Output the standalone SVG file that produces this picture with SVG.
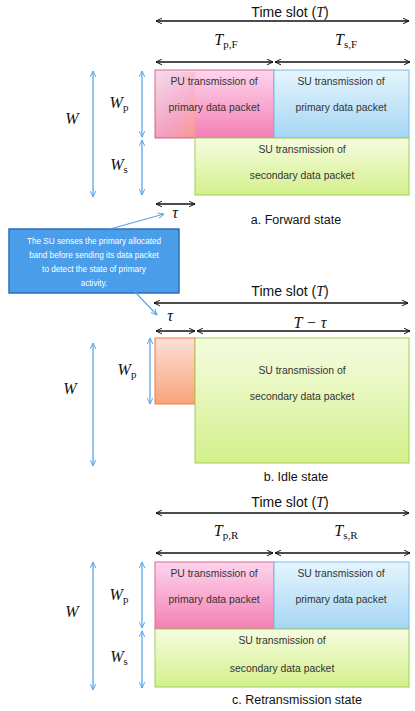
<svg xmlns="http://www.w3.org/2000/svg" width="415" height="711" viewBox="0 0 415 711">
<defs>
<marker id="ah" viewBox="0 0 10 10" refX="9.5" refY="5" markerWidth="7" markerHeight="7" orient="auto-start-reverse" markerUnits="userSpaceOnUse"><path d="M1,1 L9.5,5 L1,9" fill="none" stroke="#111" stroke-width="1.4"/></marker>
<marker id="ahb" viewBox="0 0 10 10" refX="9.5" refY="5" markerWidth="7" markerHeight="7" orient="auto-start-reverse" markerUnits="userSpaceOnUse"><path d="M1,1 L9.5,5 L1,9" fill="none" stroke="#5aa5e6" stroke-width="1.4"/></marker>
<linearGradient id="gPink" x1="0" y1="0" x2="0" y2="1"><stop offset="0" stop-color="#fdd6ee"/><stop offset="1" stop-color="#f47fb2"/></linearGradient>
<linearGradient id="gBlue" x1="0" y1="0" x2="0" y2="1"><stop offset="0" stop-color="#e6f5fd"/><stop offset="1" stop-color="#a5d6f4"/></linearGradient>
<linearGradient id="gGreen" x1="0" y1="0" x2="0" y2="1"><stop offset="0" stop-color="#f6fce0"/><stop offset="1" stop-color="#d3f08c"/></linearGradient>
<linearGradient id="gOrange" x1="0" y1="0" x2="0" y2="1"><stop offset="0" stop-color="#fde0d8"/><stop offset="1" stop-color="#f9a378"/></linearGradient>
<linearGradient id="gOver" x1="0" y1="0" x2="1" y2="1"><stop offset="0" stop-color="#ece0e6"/><stop offset="0.6" stop-color="#f4b0c8"/><stop offset="1" stop-color="#f8a878"/></linearGradient>
</defs>
<style>
.ar{stroke:#111;stroke-width:1.3;fill:none;marker-start:url(#ah);marker-end:url(#ah)}
.arb{stroke:#5aa5e6;stroke-width:1.3;fill:none;marker-start:url(#ahb);marker-end:url(#ahb)}
.t{font-family:"Liberation Sans",Arial,sans-serif;font-size:10.4px;fill:#333;text-anchor:middle}
.h{font-family:"Liberation Sans",Arial,sans-serif;font-size:14px;fill:#111;text-anchor:middle}
.cap{font-family:"Liberation Sans",Arial,sans-serif;font-size:12.5px;fill:#111;text-anchor:middle}
.m{font-family:"Liberation Serif","Times New Roman",serif;font-style:italic;font-size:16px;fill:#111;text-anchor:middle}
.mi{font-family:"Liberation Serif","Times New Roman",serif;font-style:italic}
.sub{font-family:"Liberation Serif","Times New Roman",serif;font-style:normal;font-size:11px}
.ct{font-family:"Liberation Sans",Arial,sans-serif;font-size:8.2px;fill:#fff;text-anchor:middle}
</style>

<!-- Panel a -->
<g id="panelA">
<text class="h" x="290" y="17">Time slot (<tspan class="mi">T</tspan>)</text>
<text class="m" x="226" y="45"><tspan>T</tspan><tspan class="sub" dy="3">p,F</tspan></text>
<text class="m" x="346" y="45"><tspan>T</tspan><tspan class="sub" dy="3">s,F</tspan></text>
<g id="a-pu"><rect x="155" y="70" width="119" height="68" fill="url(#gPink)" stroke="#e0668f" stroke-width="1"/>
<rect x="156" y="72" width="39" height="65" fill="url(#gOver)" opacity="0.6"/>
<text class="t" x="214" y="85">PU transmission of</text><text class="t" x="214" y="111">primary data packet</text></g>
<g id="a-sup"><rect x="274" y="70" width="135" height="68" fill="url(#gBlue)" stroke="#7cbbe8" stroke-width="1"/>
<text class="t" x="341" y="85">SU transmission of</text><text class="t" x="341" y="111">primary data packet</text></g>
<g id="a-sus"><rect x="195" y="138" width="214" height="57" fill="url(#gGreen)" stroke="#9fcd5a" stroke-width="1"/>
<text class="t" x="302" y="153">SU transmission of</text><text class="t" x="302" y="179">secondary data packet</text></g>
<text class="m" x="72" y="124">W</text>
<text class="m" x="119" y="108"><tspan>W</tspan><tspan class="sub" dy="3">p</tspan></text>
<text class="m" x="119" y="170"><tspan>W</tspan><tspan class="sub" dy="3">s</tspan></text>
<text class="m" x="175" y="218">τ</text>
<text class="cap" x="296" y="224">a.  Forward state</text>
</g>

<!-- Callout -->
<g id="callout">
<rect x="9" y="229" width="170" height="64" fill="#4a9de8" stroke="#2e6db8" stroke-width="1.5"/>
<text class="ct" x="94" y="244">The SU senses the primary allocated</text>
<text class="ct" x="94" y="258">band before sending its  data packet</text>
<text class="ct" x="94" y="272">to detect the state of primary</text>
<text class="ct" x="94" y="286">activity.</text>
</g>

<!-- Panel b -->
<g id="panelB">
<text class="h" x="290" y="296">Time slot (<tspan class="mi">T</tspan>)</text>
<text class="m" x="170" y="321">τ</text>
<text class="m" x="310" y="328">T − τ</text>
<g id="b-idle"><rect x="155" y="338" width="40" height="66" fill="url(#gOrange)" stroke="#f07a45" stroke-width="1"/></g>
<g id="b-sus"><rect x="195" y="338" width="214" height="125" fill="url(#gGreen)" stroke="#9fcd5a" stroke-width="1"/>
<text class="t" x="302" y="374">SU transmission of</text><text class="t" x="302" y="400">secondary data packet</text></g>
<text class="m" x="70" y="394">W</text>
<text class="m" x="127" y="375"><tspan>W</tspan><tspan class="sub" dy="3">p</tspan></text>
<text class="cap" x="296" y="481">b.  Idle state</text>
</g>

<!-- Panel c -->
<g id="panelC">
<text class="h" x="290" y="507">Time slot (<tspan class="mi">T</tspan>)</text>
<text class="m" x="226" y="536"><tspan>T</tspan><tspan class="sub" dy="3">p,R</tspan></text>
<text class="m" x="346" y="536"><tspan>T</tspan><tspan class="sub" dy="3">s,R</tspan></text>
<g id="c-pu"><rect x="155" y="562" width="119" height="67" fill="url(#gPink)" stroke="#e0668f" stroke-width="1"/>
<text class="t" x="214" y="577">PU transmission of</text><text class="t" x="214" y="603">primary data packet</text></g>
<g id="c-sup"><rect x="274" y="562" width="135" height="67" fill="url(#gBlue)" stroke="#7cbbe8" stroke-width="1"/>
<text class="t" x="341" y="577">SU transmission of</text><text class="t" x="341" y="603">primary data packet</text></g>
<g id="c-sus"><rect x="155" y="629" width="254" height="58" fill="url(#gGreen)" stroke="#9fcd5a" stroke-width="1"/>
<text class="t" x="282" y="644">SU transmission of</text><text class="t" x="282" y="672">secondary data packet</text></g>
<text class="m" x="72" y="617">W</text>
<text class="m" x="119" y="600"><tspan>W</tspan><tspan class="sub" dy="3">p</tspan></text>
<text class="m" x="119" y="662"><tspan>W</tspan><tspan class="sub" dy="3">s</tspan></text>
<text class="cap" x="297" y="704">c.  Retransmission state</text>
</g>

<!-- Connectors -->
<g id="connectors">
<line class="ar" x1="156" y1="21" x2="409" y2="21"/>
<line class="ar" x1="156" y1="62" x2="273" y2="62"/>
<line class="ar" x1="275" y1="62" x2="410" y2="62"/>
<line class="arb" x1="93" y1="71" x2="93" y2="197"/>
<line class="arb" x1="142" y1="71" x2="142" y2="137"/>
<line class="arb" x1="142" y1="140" x2="142" y2="195"/>
<line class="ar" x1="156" y1="204" x2="195" y2="204" stroke-width="1.8"/>
<line x1="110" y1="229" x2="164" y2="214" stroke="#5aa5e6" stroke-width="1.2" marker-end="url(#ahb)"/>
<line x1="135" y1="292" x2="157" y2="315" stroke="#5aa5e6" stroke-width="1.2" marker-end="url(#ahb)"/>
<line class="ar" x1="154" y1="303" x2="408" y2="303"/>
<line class="ar" x1="156" y1="331" x2="195" y2="331"/>
<line class="ar" x1="197" y1="331" x2="410" y2="331"/>
<line class="arb" x1="93" y1="343" x2="93" y2="466"/>
<line class="arb" x1="150" y1="338" x2="150" y2="404"/>
<line class="ar" x1="156" y1="513" x2="409" y2="513"/>
<line class="ar" x1="156" y1="553" x2="273" y2="553"/>
<line class="ar" x1="275" y1="553" x2="410" y2="553"/>
<line class="arb" x1="93" y1="562" x2="93" y2="690"/>
<line class="arb" x1="142" y1="562" x2="142" y2="628"/>
<line class="arb" x1="142" y1="631" x2="142" y2="688"/>
</g>
</svg>
